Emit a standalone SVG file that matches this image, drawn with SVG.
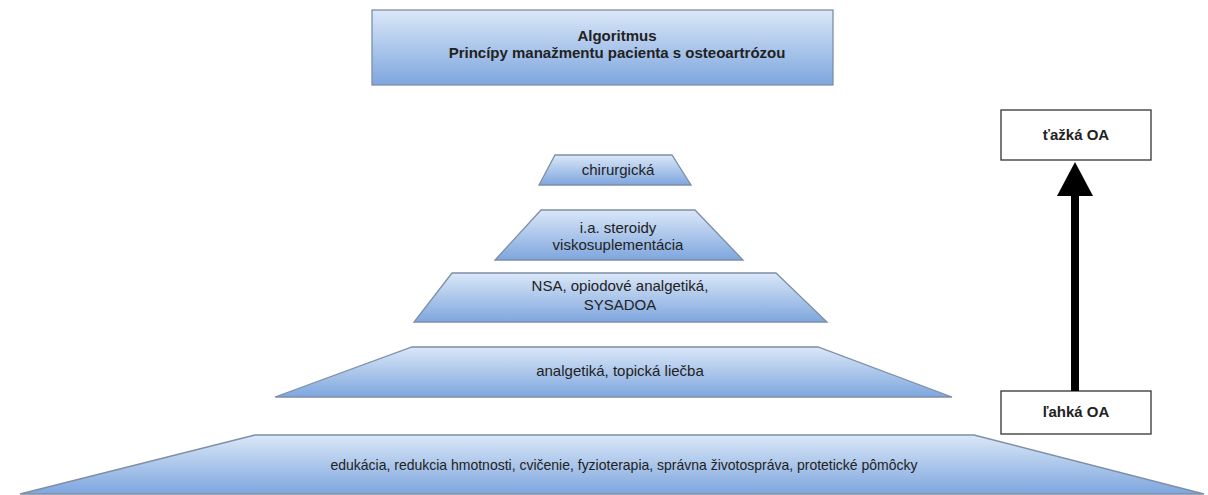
<svg xmlns="http://www.w3.org/2000/svg" width="1208" height="495" viewBox="0 0 1208 495">
<defs>
<linearGradient id="g" x1="0" y1="0" x2="0" y2="1">
<stop offset="0" stop-color="#dae7f8"/>
<stop offset="1" stop-color="#7ea6de"/>
</linearGradient>
</defs>
<style>
.sh{fill:url(#g);stroke:#7d8fa6;stroke-width:1.3}
.t{font-family:"Liberation Sans",Arial,sans-serif;font-size:15px;fill:#222;text-anchor:middle}
.b{font-weight:bold}
.box{fill:#fff;stroke:#333;stroke-width:1.3}
</style>
<rect width="1208" height="495" fill="#fff"/>
<g id="title">
<rect class="sh" x="372" y="10" width="461" height="75"/>
<text class="t b" x="617" y="41" font-size="14">Algoritmus</text>
<text class="t b" x="617" y="58" font-size="14">Princípy manažmentu pacienta s osteoartrózou</text>
</g>
<g id="chirurgicka">
<polygon class="sh" points="555,155 672,155 691,185 539,185"/>
<text class="t" x="618" y="175">chirurgická</text>
</g>
<g id="steroidy">
<polygon class="sh" points="541,210 695,210 743,260 495,260"/>
<text class="t" x="618" y="233">i.a. steroidy</text>
<text class="t" x="618" y="250">viskosuplementácia</text>
</g>
<g id="nsa">
<polygon class="sh" points="452,273 776,273 827,322 414,322"/>
<text class="t" x="620" y="291">NSA, opiodové analgetiká,</text>
<text class="t" x="620" y="310">SYSADOA</text>
</g>
<g id="analgetika">
<polygon class="sh" points="412,347 818,347 952,397 275,397"/>
<text class="t" x="620" y="376">analgetiká, topická liečba</text>
</g>
<g id="edukacia">
<polygon class="sh" points="255,435 974,435 1204,494 20,494"/>
<text class="t" x="624" y="470" font-size="14" textLength="587" lengthAdjust="spacingAndGlyphs">edukácia, redukcia hmotnosti, cvičenie, fyzioterapia, správna životospráva, protetické pômôcky</text>
</g>
<g id="tazka">
<rect class="box" x="1001" y="110" width="150" height="50"/>
<text class="t b" x="1076" y="140" font-size="13" fill="#000">ťažká OA</text>
</g>
<g id="lahka">
<rect class="box" x="1001" y="391" width="150" height="43"/>
<text class="t b" x="1076" y="417" font-size="13" fill="#000">ľahká OA</text>
</g>
<g id="connectors">
<line x1="1075" y1="391" x2="1075" y2="192" stroke="#000" stroke-width="8"/>
<polygon points="1075,162 1093,196 1057,196" fill="#000"/>
</g>
</svg>
